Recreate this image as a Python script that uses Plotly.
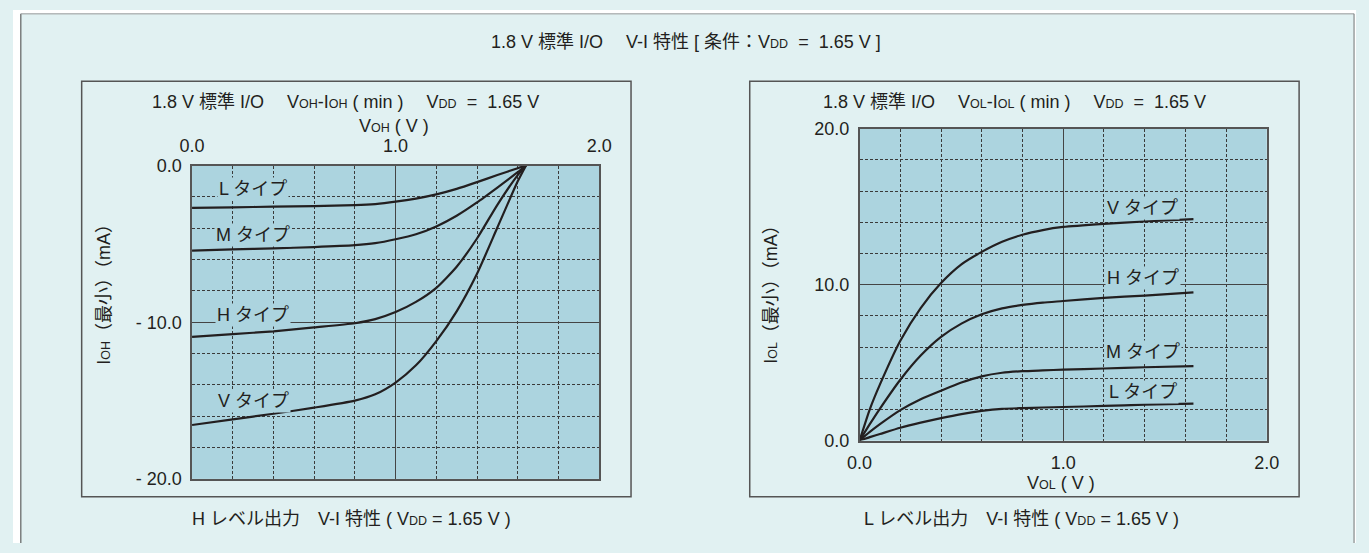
import plotly.graph_objects as go

# ---------------- data ----------------
# Left chart: VOH-IOH (H level output), VOH in V, IOH in mA
voh = [0.0, 0.2, 0.4, 0.6, 0.8, 0.9, 1.0, 1.1, 1.2, 1.3, 1.4, 1.5, 1.6, 1.64]
ioh_L = [-2.70, -2.66, -2.62, -2.58, -2.52, -2.45, -2.30, -2.10, -1.83, -1.48, -1.05, -0.60, -0.16, 0.0]
ioh_M = [-5.42, -5.35, -5.28, -5.20, -5.08, -4.95, -4.70, -4.38, -3.88, -3.20, -2.35, -1.40, -0.42, 0.0]
ioh_H = [-10.93, -10.75, -10.58, -10.33, -10.06, -9.80, -9.35, -8.70, -7.80, -6.45, -4.65, -2.50, -0.60, 0.0]
ioh_V = [-16.56, -16.20, -15.84, -15.45, -15.00, -14.60, -13.85, -12.75, -11.20, -9.30, -6.90, -3.95, -1.00, 0.0]

# Right chart: VOL-IOL (L level output)
vol = [0.0, 0.05, 0.1, 0.2, 0.3, 0.4, 0.5, 0.6, 0.7, 0.8, 0.9, 1.0, 1.2, 1.4, 1.64]
iol_V = [0.0, 2.0, 3.6, 6.4, 8.5, 10.1, 11.3, 12.1, 12.75, 13.2, 13.5, 13.7, 13.9, 14.05, 14.2]
iol_H = [0.0, 1.05, 2.05, 3.9, 5.45, 6.65, 7.5, 8.1, 8.48, 8.7, 8.85, 8.95, 9.15, 9.3, 9.5]
iol_M = [0.0, 0.55, 1.05, 1.95, 2.65, 3.2, 3.72, 4.12, 4.35, 4.45, 4.5, 4.55, 4.62, 4.7, 4.77]
iol_L = [0.0, 0.22, 0.42, 0.82, 1.15, 1.44, 1.7, 1.9, 2.03, 2.08, 2.12, 2.15, 2.22, 2.3, 2.37]

type_names = ["L タイプ", "M タイプ", "H タイプ", "V タイプ"]
left_label_pos = [(0.30, -1.5), (0.30, -4.4), (0.30, -9.55), (0.30, -15.0)]
right_label_pos = [(1.39, 3.09), (1.39, 5.67), (1.39, 10.4), (1.39, 14.94)]

left_xticks = [0, 1, 2]
left_xticktext = ["0.0", "1.0", "2.0"]
left_yticks = [0, -10, -20]
left_yticktext = ["0.0", "- 10.0", "- 20.0"]
right_xticks = [0, 1, 2]
right_xticktext = ["0.0", "1.0", "2.0"]
right_yticks = [0, 10, 20]
right_yticktext = ["0.0", "10.0", "20.0"]

# ---------------- style ----------------
W, H = 1369, 553
FONT = "Liberation Sans, Arial, Noto Sans CJK JP, sans-serif"
FS = 18
TXT = "#231f20"
PLOT_BG = "#acd4df"
OUTER_BG = "#e1f1f2"
LINE = "#231f20"
GRID = "#3a3a3a"


def px(x):
    return x / W


def py(y):
    return 1 - y / H


def sm(s):
    return f"<span style='font-size:12.5px'>{s}</span>"


fig = go.Figure()

for ys in [ioh_L, ioh_M, ioh_H, ioh_V]:
    fig.add_trace(go.Scatter(x=voh, y=ys, mode="lines", xaxis="x", yaxis="y",
                             line=dict(color=LINE, width=2.2, shape="spline", smoothing=0.6),
                             hoverinfo="skip", showlegend=False))
for ys in [iol_L, iol_M, iol_H, iol_V]:
    fig.add_trace(go.Scatter(x=vol, y=ys, mode="lines", xaxis="x2", yaxis="y2",
                             line=dict(color=LINE, width=2.2, shape="spline", smoothing=0.6),
                             hoverinfo="skip", showlegend=False))

common_axis = dict(
    showgrid=True, gridcolor="#444444", gridwidth=1,
    showline=True, mirror=True, linecolor="#555555", linewidth=1.5,
    zeroline=False, ticks="", tickfont=dict(family=FONT, size=FS, color=TXT),
    ticklabelstandoff=5, fixedrange=True,
)
minor_grid = dict(showgrid=True, gridcolor=GRID, gridwidth=1, griddash="3px,2px")

fig.update_layout(
    width=W, height=H,
    margin=dict(l=0, r=0, t=0, b=0),
    paper_bgcolor=OUTER_BG, plot_bgcolor=PLOT_BG,
    font=dict(family=FONT, size=FS, color=TXT),
    showlegend=False,
    xaxis=dict(domain=[px(182.5), px(597.5)], range=[0, 2], side="top", anchor="y",
               tickmode="array", tickvals=left_xticks, ticktext=left_xticktext,
               minor=dict(tick0=0, dtick=0.2, **minor_grid), **common_axis),
    yaxis=dict(domain=[py(486.5), py(161.5)], range=[-20, 0], anchor="x",
               tickmode="array", tickvals=left_yticks, ticktext=left_yticktext,
               minor=dict(tick0=0, dtick=2, **minor_grid), **common_axis),
    xaxis2=dict(domain=[px(863), px(1278)], range=[0, 2], anchor="y2",
                tickmode="array", tickvals=right_xticks, ticktext=right_xticktext,
                minor=dict(tick0=0, dtick=0.2, **minor_grid), **common_axis),
    yaxis2=dict(domain=[py(446.7), py(123.2)], range=[0, 20], anchor="x2",
                tickmode="array", tickvals=right_yticks, ticktext=right_yticktext,
                minor=dict(tick0=0, dtick=2, **minor_grid), **common_axis),
)

shapes = [
    # white outside strips
    dict(type="rect", xref="paper", yref="paper", x0=0, x1=px(7.5), y0=0, y1=1,
         line=dict(width=0), fillcolor="white", layer="above"),
    dict(type="rect", xref="paper", yref="paper", x0=0, x1=1, y0=py(3.5), y1=1,
         line=dict(width=0), fillcolor="white", layer="above"),
    dict(type="rect", xref="paper", yref="paper", x0=px(1367.5), x1=1, y0=0, y1=1,
         line=dict(width=0), fillcolor="white", layer="above"),
    # outer frame
    dict(type="line", xref="paper", yref="paper", x0=px(8), x1=px(8), y0=0, y1=py(4),
         line=dict(color="#444444", width=1), layer="above"),
    dict(type="line", xref="paper", yref="paper", x0=px(8), x1=px(1367), y0=py(4), y1=py(4),
         line=dict(color="#9a9a9a", width=1), layer="above"),
    dict(type="line", xref="paper", yref="paper", x0=px(1367), x1=px(1367), y0=0, y1=py(4),
         line=dict(color="#777777", width=1), layer="above"),
    # inner boxes
    dict(type="rect", xref="paper", yref="paper", x0=px(70), x1=px(630), y0=py(505), y1=py(74),
         line=dict(color="#555555", width=1.5), fillcolor="rgba(0,0,0,0)", layer="above"),
    dict(type="rect", xref="paper", yref="paper", x0=px(751), x1=px(1311), y0=py(505), y1=py(74),
         line=dict(color="#555555", width=1.5), fillcolor="rgba(0,0,0,0)", layer="above"),
]
fig.update_layout(shapes=shapes)

SP = "\u3000"
ann = []


def text(x, y, s, angle=0):
    ann.append(dict(x=px(x), y=py(y), xref="paper", yref="paper", text=s, showarrow=False,
                    xanchor="center", yanchor="middle", textangle=angle,
                    font=dict(family=FONT, size=FS, color=TXT)))


text(686, 33, f"1.8 V 標準 I/O{SP} V-I 特性 [ 条件：V{sm('DD')}  =  1.65 V ]")
text(339, 95, f"1.8 V 標準 I/O{SP} V{sm('OH')}-I{sm('OH')} ( min ){SP} V{sm('DD')}  =  1.65 V")
text(1021, 95, f"1.8 V 標準 I/O{SP} V{sm('OL')}-I{sm('OL')} ( min ){SP} V{sm('DD')}  =  1.65 V")
text(388, 120, f"V{sm('OH')} ( V )")
text(1068, 491, f"V{sm('OL')} ( V )")
text(92, 290, f"I{sm('OH')}（最小）（mA）", angle=-90)
text(772, 290, f"I{sm('OL')}（最小）（mA）", angle=-90)
text(345, 528, f"H レベル出力{SP}V-I 特性 ( V{sm('DD')} = 1.65 V )")
text(1028, 528, f"L レベル出力{SP}V-I 特性 ( V{sm('DD')} = 1.65 V )")

for name, (x, y) in zip(type_names, left_label_pos):
    ann.append(dict(x=x, y=y, xref="x", yref="y", text=name, showarrow=False,
                    bgcolor=PLOT_BG, borderpad=1,
                    font=dict(family=FONT, size=FS, color=TXT)))
for name, (x, y) in zip(type_names, right_label_pos):
    ann.append(dict(x=x, y=y, xref="x2", yref="y2", text=name, showarrow=False,
                    bgcolor=PLOT_BG, borderpad=1,
                    font=dict(family=FONT, size=FS, color=TXT)))

fig.update_layout(annotations=ann)
fig.write_html("out.html")
